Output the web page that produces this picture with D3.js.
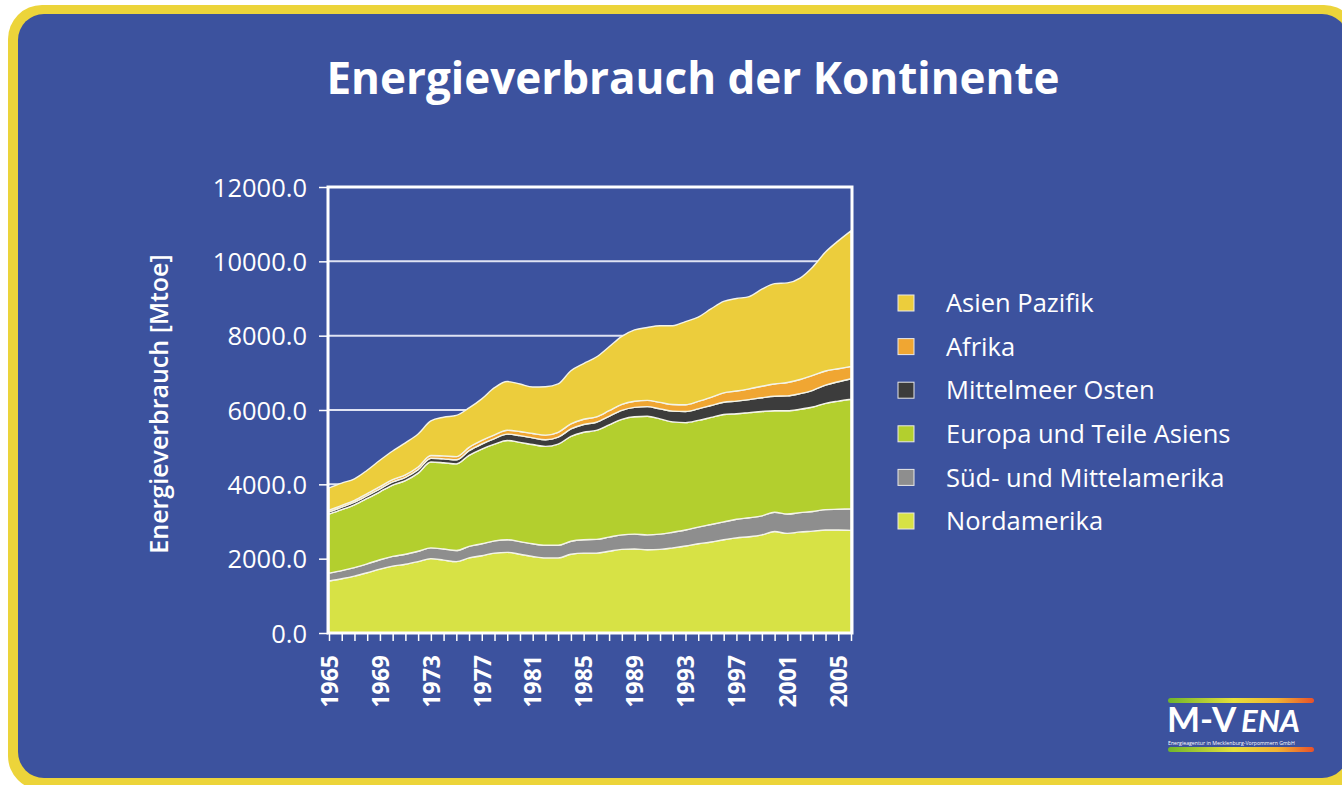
<!DOCTYPE html>
<html>
<head>
<meta charset="utf-8">
<script src="https://cdn.jsdelivr.net/npm/d3@7"></script>
<style>
  body { margin: 0; background: #fff; }
  svg text { font-family: "Open Sans", sans-serif; fill: #fff; }
</style>
</head>
<body>
<div id="canvas"></div>
<script>
// Jahre (x-Achse)
var Years = [1965,1966,1967,1968,1969,1970,1971,1972,1973,1974,1975,1976,1977,1978,1979,1980,
  1981,1982,1983,1984,1985,1986,1987,1988,1989,1990,1991,1992,1993,1994,1995,1996,1997,1998,
  1999,2000,2001,2002,2003,2004,2005,2006]

// Werte in Mtoe, von unten nach oben gestapelt
var Nordamerika = [1400,1460,1530,1620,1720,1800,1850,1920,2000,1960,1920,2020,2080,2150,2170,2120,
  2060,2020,2020,2120,2150,2150,2200,2250,2260,2240,2250,2290,2340,2400,2450,2510,2560,2590,
  2640,2730,2680,2720,2740,2770,2770,2760]
var SuedMittelamerika = [210,220,230,240,250,260,270,280,290,300,300,310,320,330,340,340,
  340,340,340,350,360,370,380,390,400,400,410,420,430,450,470,480,500,510,
  510,520,520,520,530,550,560,580]
var Europa = [1590,1640,1690,1760,1830,1920,1980,2100,2310,2320,2330,2450,2550,2600,2670,2670,
  2670,2660,2720,2820,2890,2930,3020,3110,3160,3190,3100,2970,2890,2870,2880,2890,2840,2830,
  2810,2730,2780,2780,2810,2860,2910,2950]
var MittelmeerOsten = [60,65,70,75,80,85,90,95,100,105,110,125,135,150,170,180,
  180,180,190,200,210,220,230,240,250,260,270,290,300,310,320,330,340,350,
  370,390,400,420,450,490,520,550]
var Afrika = [45,48,50,55,58,62,66,70,75,80,85,90,95,100,105,110,
  118,125,130,135,140,145,150,160,165,170,175,178,180,200,220,250,270,290,
  310,330,360,380,400,380,350,330]
var AsienPazifik = [600,600,580,630,710,770,860,890,930,1040,1110,1060,1120,1270,1310,1280,
  1250,1300,1300,1430,1500,1610,1720,1830,1920,1960,2060,2120,2240,2270,2380,2460,2490,2480,
  2610,2700,2680,2730,2920,3200,3440,3650]

var Keys = ['Nordamerika','Süd- und Mittelamerika','Europa und Teile Asiens','Mittelmeer Osten','Afrika','Asien Pazifik']
var Colors = ['#d7e245','#8e8e8e','#b3cf2e','#3c3c3c','#f0a632','#eccd3c']
var yTicks = [0,2000,4000,6000,8000,10000,12000]

var Series = [Nordamerika, SuedMittelamerika, Europa, MittelmeerOsten, Afrika, AsienPazifik]

var W = 1342, H = 785

// Plotbereich
var x_left = 329, x_right = 851
var y_top = 187, y_bottom = 633

let Svg = d3.select('#canvas')
  .append('svg')
  .attr('width', W)
  .attr('height', H)

// Rahmen
Svg.append('rect')
  .attr('x', 8).attr('y', 5)
  .attr('width', 1350).attr('height', 785)
  .attr('rx', 34)
  .style('fill', '#ecd43a')
Svg.append('rect')
  .attr('x', 18).attr('y', 14)
  .attr('width', 1330).attr('height', 764)
  .attr('rx', 26)
  .style('fill', '#3c529e')

// Titel
Svg.append('text')
  .attr('x', 693).attr('y', 94)
  .attr('text-anchor', 'middle')
  .style('font-size', '44px')
  .style('font-weight', 700)
  .text('Energieverbrauch der Kontinente')

// Tabelle für den Stapel
let table = Years.map((yr, i) => {
  let row = { year: yr }
  Keys.forEach((k, j) => row[k] = Series[j][i])
  return row
})

let stack = d3.stack().keys(Keys)(table)

// Skalen
let xScale = d3.scaleLinear()
  .domain([Years[0], Years[Years.length - 1]])
  .range([x_left, x_right])

let yScale = d3.scaleLinear()
  .domain([0, 12000])
  .range([y_bottom, y_top])

// Gitterlinien
Svg.append('g')
  .selectAll('line')
  .data(yTicks.slice(1, -1))
  .enter()
  .append('line')
  .attr('x1', x_left).attr('x2', x_right)
  .attr('y1', d => yScale(d)).attr('y2', d => yScale(d))
  .style('stroke', '#dfe3f3')
  .style('stroke-width', 2)

// Flächen
let area = d3.area()
  .x(d => xScale(d.data.year))
  .y0(d => yScale(d[0]))
  .y1(d => yScale(d[1]))
  .curve(d3.curveMonotoneX)

Svg.append('g')
  .selectAll('path')
  .data(stack)
  .enter()
  .append('path')
  .attr('d', area)
  .style('fill', (d, i) => Colors[i])
  .style('stroke', '#f4f4e8')
  .style('stroke-width', 1.4)

// Kasten um den Plot
Svg.append('rect')
  .attr('x', x_left - 1).attr('y', y_top)
  .attr('width', x_right - x_left + 2).attr('height', y_bottom - y_top)
  .style('fill', 'none')
  .style('stroke', '#fff')
  .style('stroke-width', 3)

// Achsen
let yAxis = d3.axisLeft(yScale)
  .tickValues(yTicks)
  .tickFormat(d3.format('.1f'))
  .tickSize(9)
  .tickPadding(12)

let gy = Svg.append('g')
  .attr('transform', 'translate(' + (x_left - 1) + ',0)')
  .call(yAxis)
gy.select('.domain').remove()
gy.selectAll('line').style('stroke', '#fff').style('stroke-width', 1.5)
gy.selectAll('text')
  .style('font-size', '25.5px')
  .attr('dy', '0.36em')

let xAxis = d3.axisBottom(xScale)
  .tickValues(Years)
  .tickFormat(d => (d - 1965) % 4 === 0 ? d : '')
  .tickSize(7)
  .tickSizeOuter(0)

let gx = Svg.append('g')
  .attr('transform', 'translate(0,' + (y_bottom + 1) + ')')
  .call(xAxis)
gx.select('.domain').remove()
gx.selectAll('line').style('stroke', '#fff').style('stroke-width', 1.5)
gx.selectAll('text')
  .attr('transform', 'rotate(-90)')
  .attr('text-anchor', 'end')
  .attr('x', -21)
  .attr('y', 0)
  .attr('dy', '0.36em')
  .style('font-size', '23px')
  .style('font-weight', 700)

// Achsentitel
Svg.append('text')
  .attr('transform', 'translate(168,404) rotate(-90)')
  .attr('text-anchor', 'middle')
  .style('font-size', '25px')
  .style('font-weight', 600)
  .text('Energieverbrauch [Mtoe]')

// Legende (oben Asien)
let legend = Svg.append('g')
  .selectAll('g')
  .data(Keys.slice().reverse())
  .enter()
  .append('g')
  .attr('transform', (d, i) => 'translate(898,' + (303 + i * 43.6) + ')')

legend.append('rect')
  .attr('x', 0).attr('y', -8)
  .attr('width', 16).attr('height', 16)
  .style('fill', d => Colors[Keys.indexOf(d)])
  .style('stroke', '#e8e8e8')
  .style('stroke-width', 1)

legend.append('text')
  .attr('x', 48).attr('y', 0)
  .attr('dy', '0.36em')
  .style('font-size', '25.5px')
  .text(d => d)

// Logo
let defs = Svg.append('defs')
let grad = defs.append('linearGradient').attr('id', 'logoGrad')
grad.append('stop').attr('offset', '0%').attr('stop-color', '#6fb52c')
grad.append('stop').attr('offset', '45%').attr('stop-color', '#e6e03a')
grad.append('stop').attr('offset', '75%').attr('stop-color', '#f2b233')
grad.append('stop').attr('offset', '100%').attr('stop-color', '#e8502a')

let logo = Svg.append('g').attr('transform', 'translate(1168,698)')
logo.append('rect').attr('x', 0).attr('y', 0).attr('width', 146).attr('height', 5).attr('rx', 2.5).style('fill', 'url(#logoGrad)')
logo.append('rect').attr('x', 0).attr('y', 49).attr('width', 146).attr('height', 5).attr('rx', 2.5).style('fill', 'url(#logoGrad)')
logo.append('text')
  .attr('x', -1).attr('y', 34)
  .style('font-size', '35px')
  .style('font-weight', 700)
  .style('font-family', 'Lato, sans-serif')
  .text('M-V')
logo.append('text')
  .attr('x', 73).attr('y', 34)
  .style('font-size', '31px')
  .style('font-weight', 700)
  .style('font-style', 'italic')
  .style('font-family', 'Lato, sans-serif')
  .text('ENA')
logo.append('text')
  .attr('x', 0).attr('y', 46.5)
  .style('font-size', '5.2px')
  .text('Energieagentur in Mecklenburg-Vorpommern GmbH')
</script>
</body>
</html>
